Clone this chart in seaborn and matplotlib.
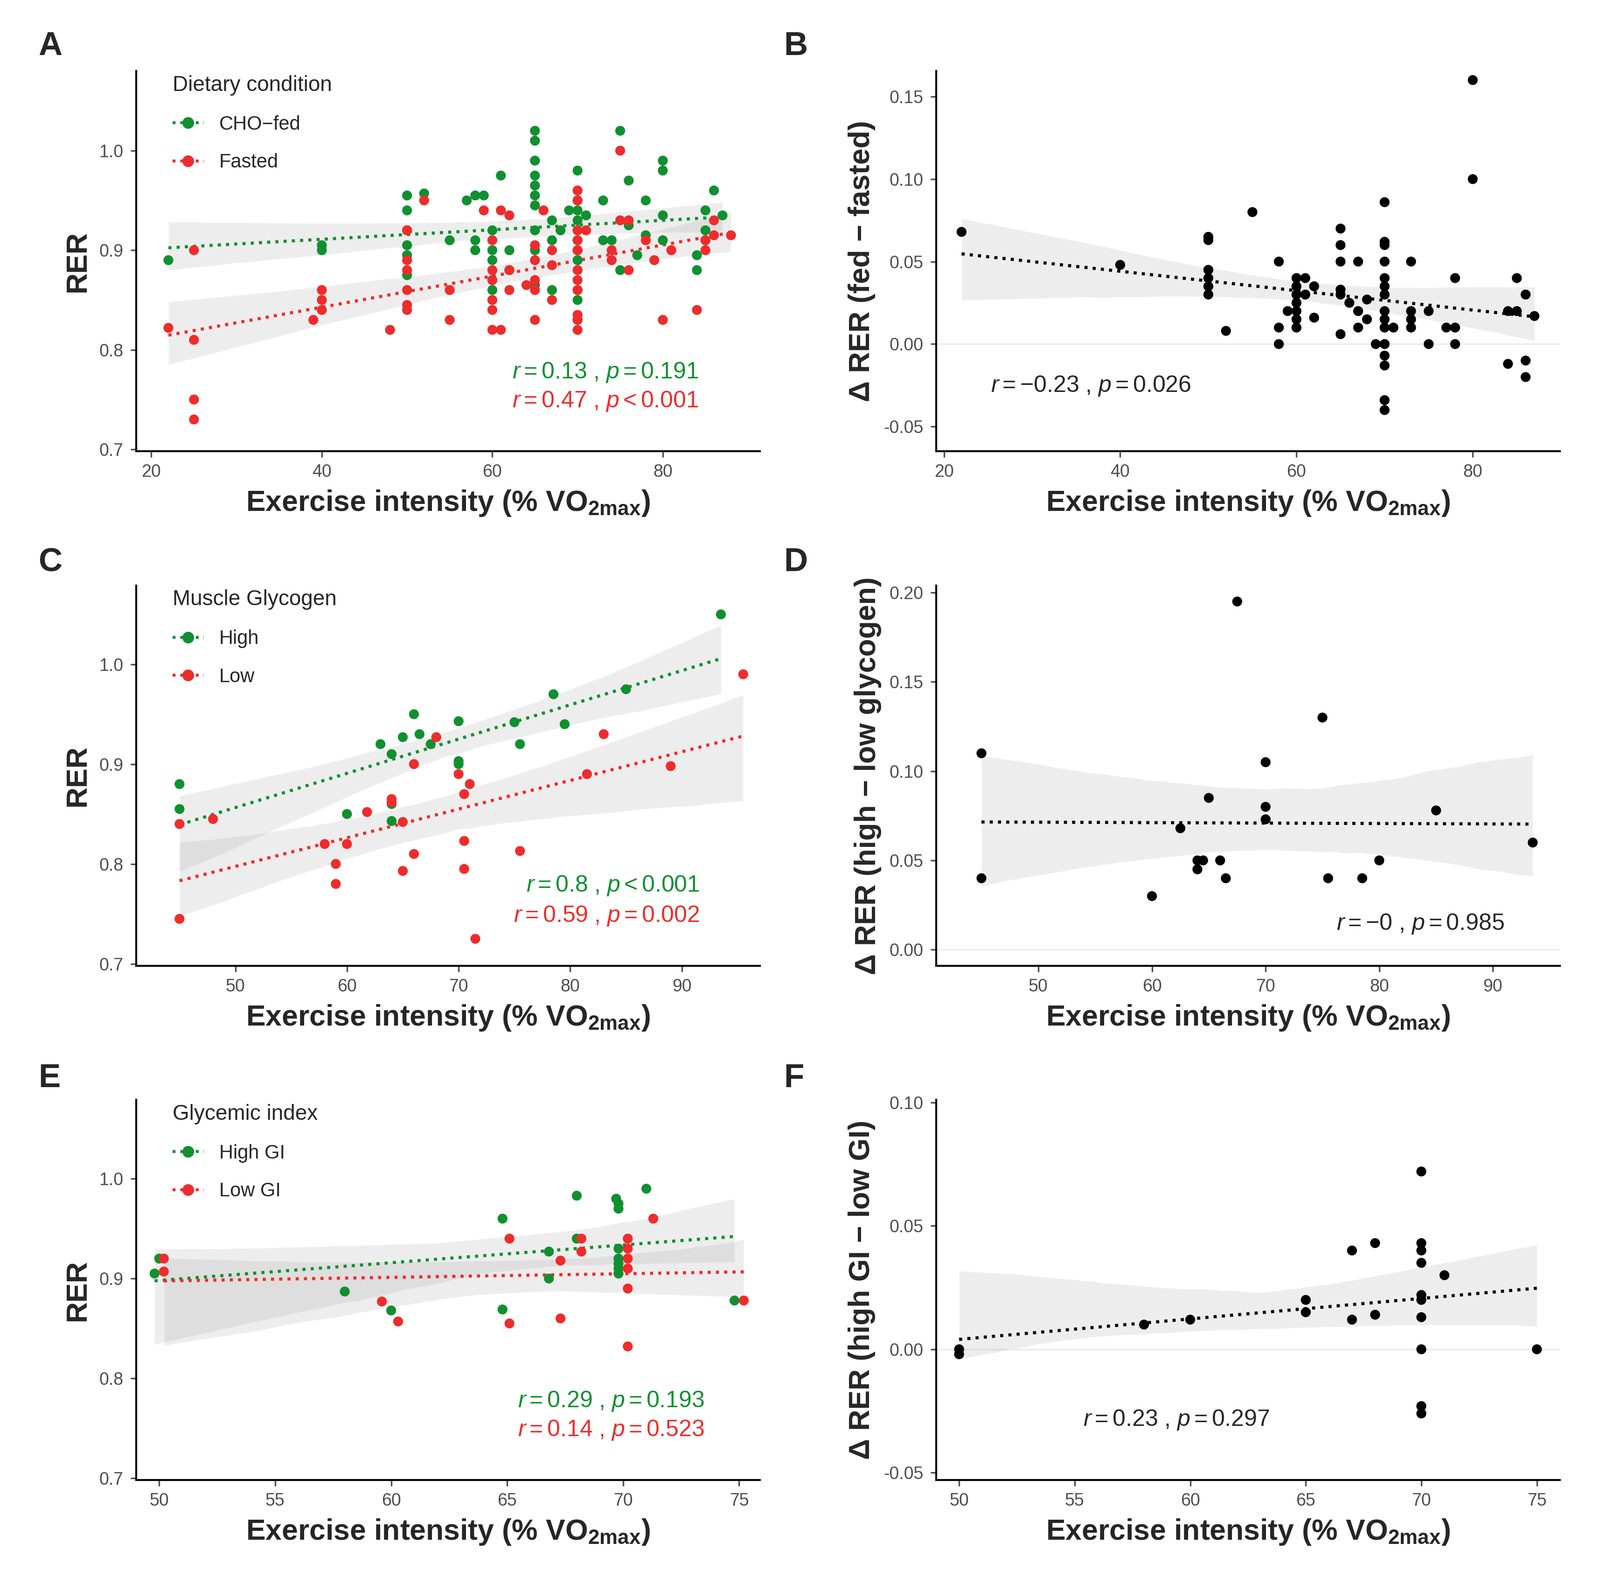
import matplotlib.pyplot as plt
import seaborn as sns
import pandas as pd
from matplotlib.lines import Line2D

# ---- data ----
a_fed = [(22,0.89),(40,0.905),(40,0.90),(50,0.955),(50,0.94),(50,0.92),(50,0.905),(50,0.895),(50,0.875),
         (52,0.957),(55,0.91),(57,0.95),(58,0.955),(58,0.91),(58,0.90),(59,0.955),(60,0.92),(60,0.90),
         (60,0.89),(60,0.87),(60,0.86),(61,0.975),(62,0.90),(62,0.88),(65,1.02),(65,1.01),(65,0.99),
         (65,0.975),(65,0.965),(65,0.955),(65,0.945),(65,0.92),(65,0.90),(65,0.865),(67,0.93),(67,0.91),
         (67,0.86),(68,0.92),(69,0.94),(70,0.98),(70,0.95),(70,0.94),(70,0.93),(70,0.92),(70,0.91),
         (70,0.90),(70,0.89),(70,0.86),(70,0.85),(70,0.83),(71,0.935),(73,0.95),(73,0.91),(74,0.91),
         (75,1.02),(75,0.88),(76,0.97),(76,0.925),(77,0.895),(78,0.95),(78,0.915),(80,0.99),(80,0.98),
         (80,0.935),(80,0.91),(84,0.895),(84,0.88),(85,0.94),(85,0.92),(85,0.91),(86,0.96),(87,0.935)]
a_fasted = [(22,0.822),(25,0.90),(25,0.81),(25,0.75),(25,0.73),(39,0.83),(40,0.86),(40,0.85),(40,0.84),
            (48,0.82),(50,0.92),(50,0.89),(50,0.88),(50,0.86),(50,0.845),(50,0.84),(52,0.95),(55,0.86),
            (55,0.83),(59,0.94),(60,0.91),(60,0.88),(60,0.87),(60,0.85),(60,0.84),(60,0.82),(61,0.82),
            (61,0.94),(62,0.935),(62,0.88),(62,0.86),(64,0.865),(65,0.905),(65,0.89),(65,0.87),(65,0.86),
            (65,0.83),(66,0.94),(67,0.90),(67,0.885),(67,0.85),(70,0.96),(70,0.95),(70,0.92),(70,0.91),
            (70,0.90),(70,0.88),(70,0.87),(70,0.86),(70,0.82),(70,0.835),(70,0.83),(71,0.92),(74,0.90),
            (74,0.89),(75,1.0),(75,0.93),(76,0.93),(76,0.88),(78,0.91),(79,0.89),(80,0.83),(81,0.90),
            (84,0.84),(85,0.91),(85,0.90),(86,0.93),(86,0.915),(88,0.915)]
b_delta = [(22,0.068),(40,0.048),(50,0.065),(50,0.063),(50,0.045),(50,0.04),(50,0.035),(50,0.03),(52,0.008),
           (55,0.08),(58,0.05),(58,0.01),(58,0.0),(59,0.02),(60,0.04),(60,0.035),(60,0.03),(60,0.025),
           (60,0.02),(60,0.015),(60,0.01),(61,0.04),(61,0.03),(62,0.035),(62,0.016),(65,0.07),(65,0.06),
           (65,0.05),(65,0.033),(65,0.03),(65,0.006),(66,0.025),(67,0.05),(67,0.02),(67,0.01),(68,0.027),
           (68,0.015),(70,0.086),(70,0.062),(70,0.06),(70,0.05),(70,0.04),(70,0.035),(70,0.03),(70,0.02),
           (70,0.015),(70,0.01),(70,0.0),(70,-0.007),(70,-0.013),(70,-0.034),(70,-0.04),(69,0.0),(71,0.01),
           (73,0.05),(73,0.02),(73,0.015),(73,0.01),(75,0.02),(75,0.0),(78,0.04),(77,0.01),(78,0.01),
           (78,0.0),(80,0.16),(80,0.10),(84,0.02),(84,-0.012),(85,0.04),(85,0.02),(86,0.03),(86,-0.01),
           (86,-0.02),(87,0.017)]
c_high = [(45,0.88),(45,0.855),(60,0.85),(63,0.92),(64,0.91),(64,0.843),(64,0.86),(65,0.927),(66,0.95),
          (66.5,0.93),(67.5,0.92),(70,0.943),(70,0.903),(70,0.90),(75,0.942),(75.5,0.92),(78.5,0.97),
          (79.5,0.94),(85,0.975),(93.5,1.05)]
c_low = [(45,0.84),(45,0.745),(48,0.845),(58,0.82),(59,0.80),(59,0.78),(60,0.82),(61.8,0.852),(64,0.865),
         (64,0.862),(65,0.842),(65,0.793),(66,0.90),(66,0.81),(68,0.927),(70,0.89),(70.5,0.87),(70.5,0.823),
         (70.5,0.795),(71,0.88),(71.5,0.725),(75.5,0.813),(81.5,0.89),(83,0.93),(89,0.898),(95.5,0.99)]
d_delta = [(45,0.11),(45,0.04),(60,0.03),(62.5,0.068),(64,0.05),(64,0.045),(64.5,0.05),(65,0.085),(66,0.05),
           (66.5,0.04),(67.5,0.195),(70,0.105),(70,0.08),(70,0.073),(75,0.13),(75.5,0.04),(78.5,0.04),
           (80,0.05),(85,0.078),(93.5,0.06)]
e_high = [(49.8,0.905),(50,0.92),(58,0.887),(60,0.868),(64.8,0.96),(64.8,0.869),(66.8,0.927),(66.8,0.90),
          (68,0.983),(68,0.94),(69.7,0.98),(69.8,0.975),(69.8,0.97),(69.8,0.93),(69.8,0.92),(69.8,0.915),
          (69.8,0.91),(69.8,0.905),(71,0.99),(74.8,0.878)]
e_low = [(50.2,0.92),(50.2,0.907),(59.6,0.877),(60.3,0.857),(65.1,0.94),(65.1,0.855),(67.3,0.918),(67.3,0.86),
         (68.2,0.94),(68.2,0.927),(70.2,0.94),(70.2,0.93),(70.2,0.92),(70.2,0.91),(70.2,0.89),(70.2,0.832),
         (71.3,0.96),(75.2,0.878)]
f_delta = [(50,0.0),(50,-0.002),(58,0.01),(60,0.012),(65,0.02),(65,0.015),(67,0.04),(67,0.012),(68,0.043),
           (68,0.014),(70,0.072),(70,0.043),(70,0.04),(70,0.035),(70,0.022),(70,0.02),(70,0.013),(70,0.0),
           (70,-0.023),(70,-0.026),(71,0.03),(75,0.0)]

GREEN = '#109030'
RED = '#ee2c2c'
XLABEL = r'Exercise intensity (% VO$_\mathbf{2max}$)'

sns.set_style('white')
plt.rcParams['font.family'] = ['Liberation Sans', 'DejaVu Sans']
plt.rcParams['mathtext.fontset'] = 'custom'
plt.rcParams['mathtext.it'] = 'Liberation Sans:italic'
plt.rcParams['mathtext.rm'] = 'Liberation Sans'
plt.rcParams['mathtext.bf'] = 'Liberation Sans:bold'

fig = plt.figure(figsize=(3430/300, 3382/300), dpi=300)


def df_of(pts):
    return pd.DataFrame(pts, columns=['x', 'y'])


def fit(ax, df, color):
    # grey confidence band, then the dotted line on top
    sns.regplot(x='x', y='y', data=df, ax=ax, scatter=False, color='0.55', line_kws={'alpha': 0})
    sns.regplot(x='x', y='y', data=df, ax=ax, scatter=False, ci=None, color=color,
                line_kws={'linestyle': ':', 'linewidth': 1.6})


def style(ax, xlim, ylim, yticks, ylabel, xticks, zero=False):
    ax.set_xlim(*xlim)
    ax.set_ylim(*ylim)
    ax.set_yticks(yticks)
    ax.set_xticks(xticks)
    ax.set_xlabel(XLABEL, fontsize=15, weight='bold')
    ax.set_ylabel(ylabel, fontsize=15, weight='bold')
    ax.tick_params(axis='both', labelsize=9, colors='0.3', length=3, left=True, bottom=True)
    for s in ['top', 'right']:
        ax.spines[s].set_visible(False)
    for s in ['left', 'bottom']:
        ax.spines[s].set_color('black')
        ax.spines[s].set_linewidth(1)
    if zero:
        ax.axhline(0, color='0.92', lw=0.8, zorder=0)


def legend(ax, title, labels):
    handles = [Line2D([0], [0], color=c, ls=':', marker='o', markersize=5, lw=1.5) for c in (GREEN, RED)]
    ax.legend(handles, labels, title=title, loc='upper left', frameon=False, fontsize=10,
              title_fontsize=11, alignment='left', handlelength=1.6, borderaxespad=0.2,
              bbox_to_anchor=(0.04, 1.02), labelspacing=1.0)


def two_groups(ax, g1, g2, title, labels, ann):
    d1, d2 = df_of(g1), df_of(g2)
    fit(ax, d1, GREEN)
    fit(ax, d2, RED)
    sns.scatterplot(x='x', y='y', data=d1, ax=ax, color=GREEN, s=26, edgecolor='none', zorder=3)
    sns.scatterplot(x='x', y='y', data=d2, ax=ax, color=RED, s=26, edgecolor='none', zorder=3)
    legend(ax, title, labels)
    (ax_x, y1, y2, t1, t2) = ann
    ax.text(ax_x, y1, t1, color=GREEN, ha='right', fontsize=12)
    ax.text(ax_x, y2, t2, color=RED, ha='right', fontsize=12)


def one_group(ax, pts, ann_x, ann_y, txt, ha):
    d = df_of(pts)
    fit(ax, d, 'black')
    sns.scatterplot(x='x', y='y', data=d, ax=ax, color='black', s=26, edgecolor='none', zorder=3)
    ax.text(ann_x, ann_y, txt, ha=ha, fontsize=12)


left_x, right_x, w, h = 0.085, 0.585, 0.39, 0.241
rows = [0.714, 0.388, 0.062]

axA = fig.add_axes([left_x, rows[0], w, h])
two_groups(axA, a_fed, a_fasted, 'Dietary condition', ['CHO\u2212fed', 'Fasted'],
           (84.2, 0.771, 0.742, r'$r = 0.13$ , $p = 0.191$', r'$r = 0.47$ , $p < 0.001$'))
style(axA, (18.2, 91.4), (0.698, 1.08), [0.7, 0.8, 0.9, 1.0], 'RER', [20, 40, 60, 80])

axB = fig.add_axes([right_x, rows[0], w, h])
one_group(axB, b_delta, 25.3, -0.029, r'$r = -0.23$ , $p = 0.026$', 'left')
style(axB, (19.1, 89.9), (-0.065, 0.1655), [-0.05, 0, 0.05, 0.10, 0.15],
      '\u0394 RER (fed \u2212 fasted)', [20, 40, 60, 80], zero=True)

axC = fig.add_axes([left_x, rows[1], w, h])
two_groups(axC, c_high, c_low, 'Muscle Glycogen', ['High', 'Low'],
           (91.6, 0.772, 0.742, r'$r = 0.8$ , $p < 0.001$', r'$r = 0.59$ , $p = 0.002$'))
style(axC, (41.1, 97), (0.698, 1.079), [0.7, 0.8, 0.9, 1.0], 'RER', [50, 60, 70, 80, 90])

axD = fig.add_axes([right_x, rows[1], w, h])
one_group(axD, d_delta, 91, 0.011, r'$r = -0$ , $p = 0.985$', 'right')
style(axD, (41, 95.9), (-0.009, 0.204), [0, 0.05, 0.10, 0.15, 0.20],
      '\u0394 RER (high \u2212 low glycogen)', [50, 60, 70, 80, 90], zero=True)

axE = fig.add_axes([left_x, rows[2], w, h])
two_groups(axE, e_high, e_low, 'Glycemic index', ['High GI', 'Low GI'],
           (73.5, 0.771, 0.742, r'$r = 0.29$ , $p = 0.193$', r'$r = 0.14$ , $p = 0.523$'))
style(axE, (49, 75.9), (0.698, 1.079), [0.7, 0.8, 0.9, 1.0], 'RER', [50, 55, 60, 65, 70, 75])

axF = fig.add_axes([right_x, rows[2], w, h])
one_group(axF, f_delta, 59.4, -0.031, r'$r = 0.23$ , $p = 0.297$', 'center')
style(axF, (49, 76), (-0.053, 0.101), [-0.05, 0, 0.05, 0.10],
      '\u0394 RER (high GI \u2212 low GI)', [50, 55, 60, 65, 70, 75], zero=True)

for ax in (axB, axD, axF):
    ax.yaxis.set_major_formatter(plt.FormatStrFormatter('%.2f'))
for ax in (axA, axC, axE):
    ax.yaxis.set_major_formatter(plt.FormatStrFormatter('%.1f'))

for letter, (fx, fy) in zip('ABCDEF', [(0.024, 0.965), (0.49, 0.965), (0.024, 0.638),
                                      (0.49, 0.638), (0.024, 0.311), (0.49, 0.311)]):
    fig.text(fx, fy, letter, fontsize=17, weight='bold')

fig.savefig('out.png', dpi=300, facecolor='white')
